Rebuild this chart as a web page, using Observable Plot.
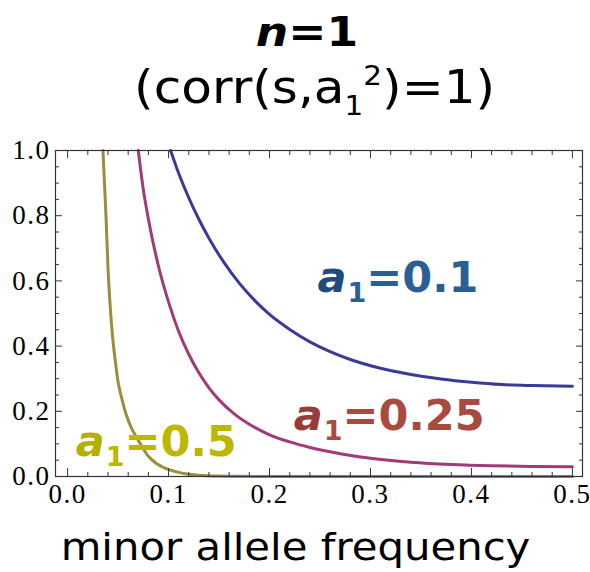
<!DOCTYPE html>
<html><head><meta charset="utf-8">
<script src="https://cdn.jsdelivr.net/npm/d3@7"></script>
<script src="https://cdn.jsdelivr.net/npm/@observablehq/plot@0.6"></script>
<style>
html,body{margin:0;padding:0;background:#fff;}
body{width:590px;height:572px;overflow:hidden;font-family:"DejaVu Sans",sans-serif;color:#000;}
#head{position:relative;width:590px;height:130px;}
.t1{position:absolute;left:0;width:590px;top:12px;text-align:center;font-size:40px;line-height:40px;font-weight:bold;}
.t1 span{display:inline-block;transform:scaleX(1.14);transform-origin:center;margin-left:24px;}
.t2{position:absolute;left:0;width:590px;top:64px;text-align:center;font-size:46px;line-height:46px;}
.t2 span.w{display:inline-block;transform:scaleX(1.09);transform-origin:center;margin-left:40px;}
.sub{font-size:27px;position:relative;top:12px;}
.sup{font-size:27px;position:relative;top:-18px;}
#chart svg{display:block;}
#xl{position:relative;width:590px;height:57px;}
#xl div{position:absolute;left:0;width:590px;top:13px;text-align:center;font-size:38px;line-height:38px;}
#xl span{display:inline-block;transform:scaleX(1.1);}
g[aria-label="x-axis tick label"] text, g[aria-label="y-axis tick label"] text{letter-spacing:1.5px;}
</style></head><body>
<div id="head">
  <div class="t1"><span><i>n</i>=1</span></div>
  <div class="t2"><span class="w">(corr(s,a<span class="sub">1</span><span class="sup">2</span>)=1)</span></div>
</div>
<div id="chart"></div>
<div id="xl"><div><span>minor allele frequency</span></div></div>
<script>
// ---- data ----
const pBlue = [0.102,0.11,0.12,0.13,0.14,0.155,0.17,0.185,0.20,0.22,0.24,0.26,0.28,0.31,0.34,0.37,0.40,0.43,0.46,0.50];
const vBlue = [1.0,0.93,0.855,0.789,0.731,0.656,0.593,0.541,0.497,0.451,0.413,0.383,0.359,0.332,0.313,0.299,0.289,0.282,0.279,0.277];

const pMag = [0.070,0.075,0.08,0.09,0.10,0.11,0.12,0.13,0.14,0.15,0.165,0.18,0.20,0.22,0.24,0.27,0.30,0.34,0.38,0.42,0.46,0.50];
const vMag = [1.0,0.88,0.79,0.645,0.535,0.445,0.375,0.318,0.272,0.235,0.192,0.16,0.128,0.106,0.089,0.07,0.056,0.044,0.037,0.033,0.031,0.030];

const pYel = [0.035,0.0365,0.038,0.040,0.042,0.0445,0.047,0.050,0.054,0.058,0.063,0.068,0.074,0.080,0.088,0.097,0.107,0.12,0.135,0.15,0.17,0.2,0.25,0.3,0.4,0.5];
const vYel = [1.0,0.90,0.80,0.64,0.53,0.43,0.36,0.29,0.235,0.19,0.15,0.122,0.09,0.062,0.04,0.025,0.015,0.007,0.003,0.0012,0.0004,0,0,0,0,0];

const seriesNames = ["a1=0.1","a1=0.25","a1=0.5"];
const lineColors = ["#3B3A9A","#A03A78","#9C8C3C"];

const labelText = ["a\u2081=0.1","a\u2081=0.25","a\u2081=0.5"];
const labelX = [0.2475,0.224,0.008];
const labelY = [0.607,0.185,0.106];
const labelColors = ["#2A5F96","#A84A40","#BCB700"];
const labelDark = ["#1F4C7C","#973C36","#B5AF00"];

const xMajor = [0.0,0.1,0.2,0.3,0.4,0.5];
const yMajor = [0.0,0.2,0.4,0.6,0.8,1.0];
const xMinor = d3.range(0,0.5001,0.02).filter(v=>Math.abs(v*10-Math.round(v*10))>1e-6);
const yMinor = d3.range(0,1.0001,0.05).filter(v=>Math.abs(v*5-Math.round(v*5))>1e-6);

const mk = (ps, vs) => ps.map((p,i)=>({p, v: vs[i]}));
const curves = [mk(pBlue,vBlue), mk(pMag,vMag), mk(pYel,vYel)];
const labels = labelText.map((t,i)=>({t, x: labelX[i], y: labelY[i]}));

const tickStyle = {stroke:"#333", strokeWidth:1, text:null, label:null};
const plot = Plot.plot({
  width:590, height:385,
  marginLeft:55, marginRight:8, marginTop:20, marginBottom:39,
  x:{domain:[-0.012,0.51]},
  y:{domain:[0,1]},
  style:{fontFamily:"'Liberation Serif', serif", fontSize:"27px", color:"#000", background:"#fff", overflow:"visible"},
  marks:[
    ...curves.map((c,i)=>Plot.line(c,{x:"p",y:"v",stroke:lineColors[i],strokeWidth:3,curve:"monotone-x"})),
    Plot.frame({stroke:"#333", strokeWidth:1.2}),
    Plot.axisX(xMajor,{anchor:"bottom", tickSize:0, tickPadding:7, tickFormat:d=>d.toFixed(1), label:null, fontSize:27}),
    Plot.axisY(yMajor,{anchor:"left", tickSize:0, tickPadding:5, tickFormat:d=>d.toFixed(1), label:null, fontSize:27}),
    Plot.axisX(xMajor,{anchor:"bottom", tickSize:-8, ...tickStyle}),
    Plot.axisX(xMinor,{anchor:"bottom", tickSize:-4, ...tickStyle}),
    Plot.axisX(xMajor,{anchor:"top", tickSize:-7, ...tickStyle}),
    Plot.axisX(xMinor,{anchor:"top", tickSize:-4, ...tickStyle}),
    Plot.axisY(yMajor,{anchor:"left", tickSize:-7, ...tickStyle}),
    Plot.axisY(yMinor,{anchor:"left", tickSize:-4, ...tickStyle}),
    Plot.axisY(yMajor,{anchor:"right", tickSize:-7, ...tickStyle}),
    Plot.axisY(yMinor,{anchor:"right", tickSize:-4, ...tickStyle}),
    ...labels.map((l,i)=>Plot.text([l],{x:"x",y:"y",text:"t",fill:labelColors[i],textAnchor:"start",fontSize:43,fontWeight:"bold",fontFamily:"'DejaVu Sans', sans-serif"}))
  ]
});
document.getElementById("chart").appendChild(plot);

// rich formatting of the curve labels: italic "a", subscript "1"
d3.select(plot).selectAll('g[aria-label="text"] text').each(function(){
  const t = this.textContent;
  const i = labelText.indexOf(t);
  if (i < 0) return;
  const rest = t.slice(2);
  const sel = d3.select(this);
  sel.text(null);
  sel.append("tspan").attr("font-style","italic").attr("fill",labelDark[i]).text("a");
  sel.append("tspan").attr("font-size",27).attr("dy",10).attr("dx",1).text("1");
  sel.append("tspan").attr("dy",-10).text(rest);
});
</script>
</body></html>
